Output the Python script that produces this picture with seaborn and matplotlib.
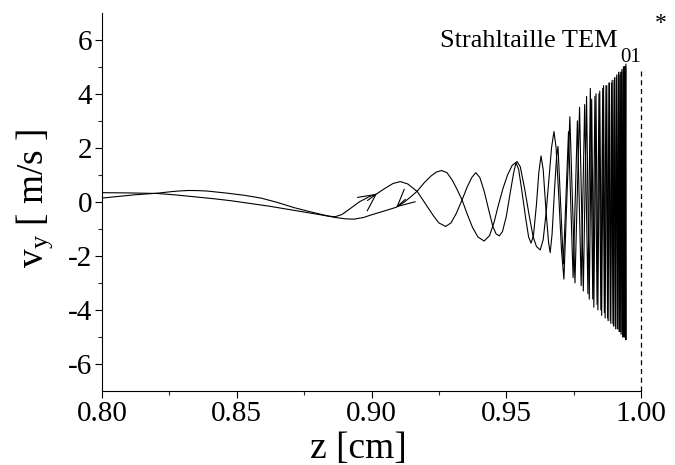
import matplotlib
matplotlib.use("Agg")
import matplotlib.pyplot as plt
import numpy as np
import pandas as pd
import seaborn as sns

# forward branch (arrow pointing to +z)
z_fwd = [0.800, 0.810, 0.8205, 0.828, 0.835, 0.842, 0.848, 0.855, 0.862, 0.868, 0.874,
         0.880, 0.884, 0.8865, 0.889, 0.8925, 0.8955, 0.8989, 0.902, 0.905, 0.908, 0.9107,
         0.9135, 0.9155, 0.917, 0.919, 0.921, 0.923, 0.925, 0.9275, 0.9295, 0.9315, 0.9336,
         0.9355, 0.9372, 0.9387, 0.9402, 0.9418, 0.9435, 0.9450, 0.9462, 0.9474, 0.9486,
         0.9500, 0.9515, 0.9527, 0.9536, 0.9546, 0.9558, 0.9572, 0.9583, 0.9592, 0.9601,
         0.9612, 0.9621, 0.9629, 0.9637, 0.9648, 0.9657, 0.9663, 0.9670, 0.9680, 0.9687,
         0.9692,
         0.9712, 0.9731, 0.9748, 0.9764, 0.9778, 0.9791, 0.9803,
         0.9812, 0.9821, 0.9829, 0.9837, 0.9844, 0.9851, 0.9858, 0.9864, 0.9870, 0.9876,
         0.9881, 0.9886, 0.9891, 0.9896, 0.9900, 0.9904, 0.9908, 0.9912, 0.9916, 0.9919,
         0.9922, 0.9925, 0.9928, 0.9931, 0.9934, 0.9936, 0.9938, 0.9940, 0.9942, 0.9943,
         0.9944]
v_fwd = [0.34, 0.33, 0.31, 0.25, 0.18, 0.11, 0.04, -0.06, -0.16, -0.26, -0.36,
         -0.46, -0.53, -0.55, -0.47, -0.22, 0.00, 0.18, 0.30, 0.50, 0.68, 0.75,
         0.66, 0.50, 0.38, 0.08, -0.22, -0.52, -0.78, -0.91, -0.78, -0.42, 0.07,
         0.55, 0.90, 1.08, 0.90, 0.40, -0.30, -0.90, -1.18, -1.26, -1.10,
         -0.55, 0.35, 1.05, 1.45, 1.20, 0.40, -0.60, -1.30, -1.53, -1.25,
         -0.10, 1.10, 1.70, 1.20, -0.40, -1.50, -1.88, -1.20, 0.60, 1.70,
         2.05,
         -2.30, 2.60, -2.80, 3.00, -3.10, 3.60, -3.40,
         4.20, -3.60, 3.90, -3.80, 4.00, -4.00, 4.20, -4.10, 4.30, -4.30,
         4.40, -4.40, 4.40, -4.50, 4.50, -4.60, 4.60, -4.70, 4.70, -4.80,
         4.70, -4.80, 4.80, -4.90, 4.90, -5.00, 4.90, -5.00, 5.00, -5.10,
         5.10]

# backward branch (arrow pointing to -z)
z_bwd = [0.800, 0.806, 0.812, 0.8205, 0.826, 0.829, 0.832, 0.835, 0.839, 0.8466, 0.853,
         0.859, 0.865, 0.8715, 0.877, 0.882, 0.886, 0.8905, 0.8935, 0.897, 0.900, 0.905,
         0.9092, 0.912, 0.9145, 0.917, 0.9195, 0.922, 0.924, 0.926, 0.928, 0.930, 0.9318,
         0.9336, 0.9355, 0.9375, 0.9395, 0.9418, 0.9438, 0.9455, 0.9470, 0.9488, 0.9505,
         0.9522, 0.9540, 0.9552, 0.9568, 0.9585, 0.9600, 0.9612, 0.9626, 0.9637, 0.9648,
         0.9658, 0.9668, 0.9677, 0.9685, 0.9695, 0.9705, 0.9714,
         0.9736, 0.9755, 0.9772, 0.9786, 0.9798,
         0.9808, 0.9817, 0.9825, 0.9833, 0.9840, 0.9847, 0.9854, 0.9861, 0.9867, 0.9873,
         0.9878, 0.9883, 0.9888, 0.9893, 0.9898, 0.9902, 0.9906, 0.9910, 0.9914, 0.9917,
         0.9920, 0.9923, 0.9926, 0.9929, 0.9932, 0.9935, 0.9937, 0.9939, 0.9941, 0.9943,
         0.9945]
v_bwd = [0.14, 0.20, 0.26, 0.32, 0.38, 0.405, 0.42, 0.418, 0.40, 0.32, 0.24,
         0.14, -0.02, -0.22, -0.36, -0.48, -0.57, -0.63, -0.64, -0.58, -0.48, -0.33,
         -0.20, -0.02, 0.18, 0.40, 0.70, 0.95, 1.10, 1.16, 1.08, 0.80, 0.45,
         0.07, -0.45, -0.95, -1.30, -1.45, -1.25, -0.75, -0.15, 0.50, 1.00,
         1.35, 1.49, 1.30, 0.50, -0.50, -1.30, -1.65, -1.78, -1.40, -0.40,
         0.80, 2.00, 2.60, 2.00, 0.20, -1.80, -2.86,
         3.15, -3.00, 3.50, -3.30, 3.90,
         -3.60, 3.80, -3.90, 4.00, -4.00, 4.10, -4.20, 4.30, -4.30, 4.30,
         -4.40, 4.40, -4.50, 4.50, -4.60, 4.60, -4.70, 4.70, -4.70, 4.80,
         -4.80, 4.80, -4.90, 4.90, -5.00, 5.00, -5.00, 5.00, -5.00, 5.00,
         -5.10]

# arrows (tip, tail)
arr_tip_z = [0.9020, 0.9092]
arr_tip_v = [0.30, -0.20]
arr_tail_z = [0.8985, 0.91256]
arr_tail_v = [0.05, 0.093]

xticks = [0.80, 0.85, 0.90, 0.95, 1.00]
yticks = [-6, -4, -2, 0, 2, 4, 6]
waist_z = 1.00

sns.set_theme(style="ticks")
plt.rcParams['font.family'] = ['Liberation Serif', 'DejaVu Serif']
plt.rcParams['mathtext.fontset'] = 'custom'
plt.rcParams['mathtext.rm'] = 'Liberation Serif'
plt.rcParams['mathtext.it'] = 'Liberation Serif:italic'

fig = plt.figure(figsize=(6.75, 4.65), dpi=100)
ax = fig.add_axes([102 / 675, 1 - 391 / 465, (641 - 102) / 675, (391 - 12.7) / 465])

df = pd.concat([
    pd.DataFrame({'z': z_fwd, 'v': v_fwd, 'branch': 'fwd'}),
    pd.DataFrame({'z': z_bwd, 'v': v_bwd, 'branch': 'bwd'}),
])
sns.lineplot(data=df, x='z', y='v', units='branch', estimator=None, sort=False,
             color='black', lw=0.8, ax=ax, legend=False)

for tz, tv, sz, sv in zip(arr_tip_z, arr_tip_v, arr_tail_z, arr_tail_v):
    ax.annotate('', xy=(tz, tv), xytext=(sz, sv),
                arrowprops=dict(arrowstyle='->,head_length=0.6,head_width=0.3',
                                color='black', lw=0.8, mutation_scale=20,
                                shrinkA=0, shrinkB=0))

ax.axvline(waist_z, ymin=0, ymax=(4.9 + 7) / 14, color='black', lw=0.9,
           ls=(0, (4, 3)), clip_on=False)

ax.set_xlim(0.80, 1.00)
ax.set_ylim(-7, 7)
ax.set_xticks(xticks)
ax.set_xticklabels([f"{t:.2f}" for t in xticks])
ax.set_yticks(yticks)
ax.set_yticklabels([str(t) for t in yticks])
ax.set_xticks([0.825, 0.875, 0.925, 0.975], minor=True)
ax.set_yticks([-5, -3, -1, 1, 3, 5], minor=True)
ax.tick_params(which='major', direction='out', length=5, width=0.8, labelsize=21,
               colors='black', pad=2)
ax.tick_params(which='minor', direction='out', length=3, width=0.8)
for s in ['top', 'right']:
    ax.spines[s].set_visible(False)
for s in ['left', 'bottom']:
    ax.spines[s].set_linewidth(0.8)
    ax.spines[s].set_color('black')

ax.set_xlabel('z [cm]', fontsize=27, color='black')
ax.set_ylabel(r'v$_{\rm y}$ [ m/s ]', fontsize=27, color='black')
ax.xaxis.set_label_coords(0.476, -0.106, transform=ax.transAxes)
ax.yaxis.set_label_coords(-0.087, 0.51, transform=ax.transAxes)

ax.text(0.627, 0.909, 'Strahltaille TEM', transform=ax.transAxes,
        fontsize=19, ha='left', va='baseline', color='black')
ax.text(0.962, 0.870, '01', transform=ax.transAxes,
        fontsize=15, ha='left', va='baseline', color='black')
ax.text(1.026, 0.958, '*', transform=ax.transAxes,
        fontsize=17, ha='left', va='baseline', color='black', clip_on=False)

fig.savefig('out.png', dpi=100)
